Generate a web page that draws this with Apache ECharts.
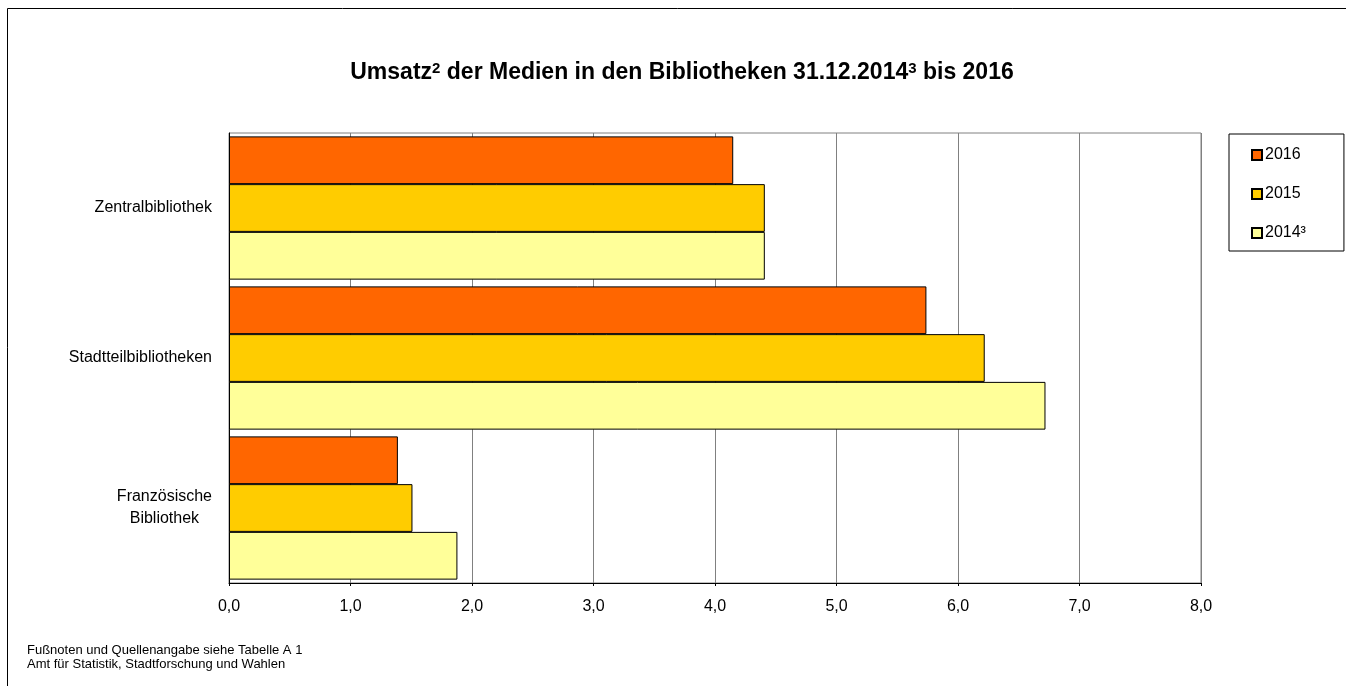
<!DOCTYPE html>
<html>
<head>
<meta charset="utf-8">
<script src="https://cdn.jsdelivr.net/npm/echarts@6/dist/echarts.min.js"></script>
<style>
  html, body { margin: 0; padding: 0; background: #fff; }
  #chart { width: 1346px; height: 686px; }
</style>
</head>
<body>
<div id="chart"></div>
<script>
// Bibliotheken (von oben nach unten)
const categories = ['Zentralbibliothek', 'Stadtteilbibliotheken', 'Französische\nBibliothek']
const years = ['2016', '2015', '2014³']
const values2016 = [4.15, 5.74, 1.39]
const values2015 = [4.41, 6.22, 1.51]
const values2014 = [4.41, 6.72, 1.88]
const colors = ['#FF6600', '#FFCC00', '#FFFF99']

const font = "'Liberation Sans', Arial, sans-serif"
const chart = echarts.init(document.getElementById('chart'))

const makeSeries = (name, data, color) => ({
  name,
  type: 'bar',
  data,
  barGap: 0,
  barCategoryGap: '4.5%',
  itemStyle: { color, borderColor: '#000', borderWidth: 1 },
  emphasis: { disabled: true },
})

const option = {
  animation: false,
  textStyle: { fontFamily: font, color: '#000' },
  title: {
    text: 'Umsatz{sup|2} der Medien in den Bibliotheken 31.12.2014{sup|3} bis 2016',
    left: 677,
    textAlign: 'center',
    top: 56,
    textStyle: {
      fontFamily: font,
      fontSize: 23,
      fontWeight: 'bold',
      color: '#000',
      rich: {
        sup: { fontFamily: font, fontSize: 15, fontWeight: 'bold', color: '#000', verticalAlign: 'top' },
      },
    },
  },
  legend: {
    orient: 'vertical',
    left: 1229,
    top: 134,
    data: years,
    icon: 'rect',
    itemWidth: 10,
    itemHeight: 10,
    itemGap: 23,
    padding: [13, 38, 10, 22],
    borderColor: '#000',
    borderWidth: 1,
    textStyle: { fontFamily: font, fontSize: 16, color: '#000', padding: [0, 0, 0, -2] },
  },
  grid: {
    left: 229,
    right: 145,
    top: 133,
    bottom: 103,
    show: true,
    borderColor: '#808080',
    borderWidth: 1,
  },
  xAxis: {
    type: 'value',
    min: 0,
    max: 8,
    interval: 1,
    axisLine: { show: true, lineStyle: { color: '#000' } },
    axisTick: { show: true, length: 3, lineStyle: { color: '#000' } },
    splitLine: { lineStyle: { color: '#808080', width: 1 } },
    axisLabel: {
      fontFamily: font,
      fontSize: 16,
      color: '#000',
      margin: 16,
      formatter: v => v.toFixed(1).replace('.', ','),
    },
  },
  yAxis: {
    type: 'category',
    data: categories,
    inverse: true,
    axisLine: { show: true, lineStyle: { color: '#000' } },
    axisTick: { show: false },
    axisLabel: {
      fontFamily: font,
      fontSize: 16,
      color: '#000',
      margin: 17,
      lineHeight: 22,
      formatter: v => v.indexOf('\n') >= 0 ? v.split('\n').map(s => '{c|' + s + '}').join('\n') : v,
      rich: { c: { align: 'center', fontFamily: font, fontSize: 16, color: '#000', lineHeight: 22 } },
    },
  },
  series: [
    makeSeries(years[0], values2016, colors[0]),
    makeSeries(years[1], values2015, colors[1]),
    makeSeries(years[2], values2014, colors[2]),
  ],
  graphic: [
    {
      type: 'rect',
      shape: { x: 7.5, y: 8.5, width: 1400, height: 700 },
      style: { fill: 'none', stroke: '#000', lineWidth: 1 },
      silent: true,
    },
    {
      type: 'text',
      left: 27,
      top: 644,
      style: {
        text: 'Fußnoten und Quellenangabe siehe Tabelle A 1\nAmt für Statistik, Stadtforschung und Wahlen',
        font: '13px ' + font,
        lineHeight: 13.5,
        fill: '#000',
      },
    },
  ],
}

chart.setOption(option)
</script>
</body>
</html>
